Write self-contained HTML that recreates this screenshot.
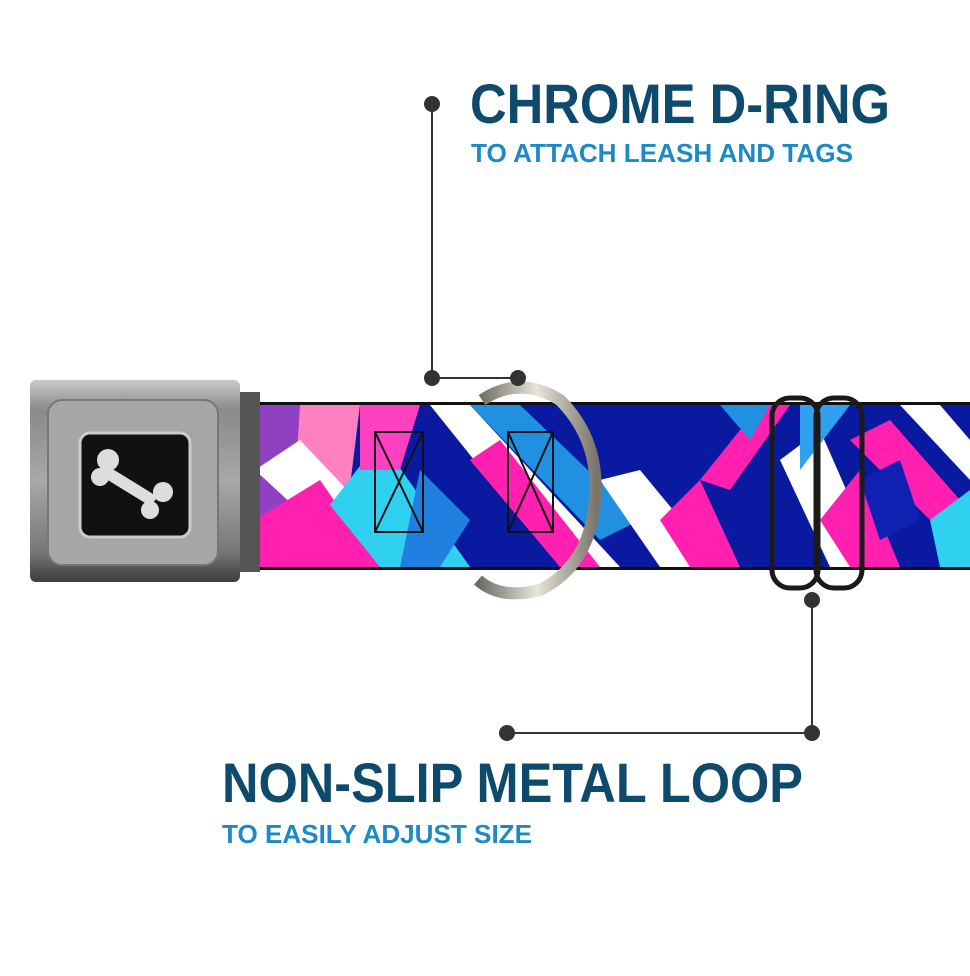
<!DOCTYPE html>
<html><head><meta charset="utf-8"><style>html,body{margin:0;padding:0;background:#fff}</style></head>
<body>
<svg width="970" height="971" viewBox="0 0 970 971" xmlns="http://www.w3.org/2000/svg" font-family="Liberation Sans, sans-serif" font-weight="bold">
<defs>
<clipPath id="strap"><rect x="255" y="405" width="715" height="162"/></clipPath>
<linearGradient id="buck" x1="0" y1="0" x2="0" y2="1">
<stop offset="0" stop-color="#c9c9c9"/><stop offset="0.15" stop-color="#8a8a8a"/><stop offset="0.5" stop-color="#a8a8a8"/><stop offset="0.85" stop-color="#777"/><stop offset="1" stop-color="#3c3c3c"/></linearGradient>
<linearGradient id="ring" x1="0" y1="0" x2="1" y2="0"><stop offset="0" stop-color="#6a6a60"/><stop offset="0.5" stop-color="#e8e4d8"/><stop offset="1" stop-color="#7a766c"/></linearGradient>
</defs>
<!-- strap -->
<rect x="250" y="402" width="720" height="168" fill="#111"/>
<g clip-path="url(#strap)">
<rect x="255" y="405" width="715" height="162" fill="#0a1aa0"/>
<polygon points="255,405 330,405 300,567 255,567" fill="#9040c0"/>
<polygon points="300,405 360,405 340,567 290,567" fill="#ff80c0"/>
<polygon points="255,470 300,440 420,567 360,567" fill="#ffffff"/>
<polygon points="255,520 320,480 380,567 255,567" fill="#ff20b0"/>
<polygon points="330,505 380,440 470,567 380,567" fill="#30d0f0"/>
<polygon points="360,405 420,405 400,470 360,470" fill="#ff40c0"/>
<polygon points="430,405 470,405 620,567 560,567" fill="#ffffff"/>
<polygon points="470,405 520,405 640,520 600,540" fill="#2090e0"/>
<polygon points="470,460 500,440 600,567 560,567" fill="#ff20b0"/>
<polygon points="420,470 470,520 440,567 400,567" fill="#2080e0"/>
<polygon points="600,480 640,470 720,567 660,567" fill="#ffffff"/>
<polygon points="700,480 760,405 790,405 730,490" fill="#ff20b0"/>
<polygon points="660,520 700,480 740,567 690,567" fill="#ff20b0"/>
<polygon points="720,405 770,405 750,440" fill="#2090e0"/>
<polygon points="780,460 820,430 880,567 830,567" fill="#ffffff"/>
<polygon points="800,405 850,405 800,470" fill="#30a0f0"/>
<polygon points="850,440 890,420 960,500 930,520" fill="#ff20b0"/>
<polygon points="820,520 860,470 900,567 850,567" fill="#ff20b0"/>
<polygon points="900,405 940,405 970,440 970,480" fill="#ffffff"/>
<polygon points="930,520 970,490 970,567 940,567" fill="#30d0f0"/>
<polygon points="860,480 900,460 920,520 880,540" fill="#1020b0"/>
</g>
<!-- stitch boxes -->
<g fill="none" stroke="#111" stroke-width="2">
<rect x="375" y="432" width="48" height="100"/><path d="M375,432 L423,532 M423,432 L375,532"/>
<rect x="508" y="432" width="45" height="100"/><path d="M508,432 L553,532 M553,432 L508,532"/>
</g>
<!-- d-ring -->
<path d="M482,400 Q520,375 560,400 Q600,440 595,500 Q590,565 540,590 Q500,600 478,580" fill="none" stroke="url(#ring)" stroke-width="12"/>
<!-- loop -->
<rect x="772" y="398" width="46" height="190" rx="18" fill="none" stroke="#1a1a1a" stroke-width="5"/>
<rect x="816" y="398" width="46" height="190" rx="18" fill="none" stroke="#1a1a1a" stroke-width="5"/>
<!-- buckle -->
<rect x="236" y="392" width="24" height="180" fill="#555"/>
<rect x="30" y="380" width="210" height="202" rx="6" fill="url(#buck)"/>
<rect x="48" y="400" width="170" height="165" rx="14" fill="#a6a6a6" stroke="#777" stroke-width="2"/>
<rect x="80" y="433" width="110" height="104" rx="10" fill="#111" stroke="#ccc" stroke-width="3"/>
<g fill="#ddd"><circle cx="108" cy="460" r="11"/><circle cx="100" cy="477" r="9"/><circle cx="163" cy="492" r="10"/><circle cx="150" cy="510" r="9"/><path d="M106,465 L158,497 L150,506 L98,474 Z"/></g>
<!-- callouts -->
<g stroke="#333" stroke-width="2" fill="none">
<path d="M432,104 V378 H518"/><path d="M812,600 V733 H507"/></g>
<g fill="#333"><circle cx="432" cy="104" r="8"/><circle cx="432" cy="378" r="8"/><circle cx="518" cy="378" r="8"/>
<circle cx="812" cy="600" r="8"/><circle cx="812" cy="733" r="8"/><circle cx="507" cy="733" r="8"/></g>
<text x="470" y="123" font-size="56" fill="#0d4a6b" textLength="420" lengthAdjust="spacingAndGlyphs">CHROME D-RING</text>
<text x="471" y="162" font-size="26" fill="#1b8ac6" textLength="382" lengthAdjust="spacingAndGlyphs">TO ATTACH LEASH AND TAGS</text>
<text x="222" y="802" font-size="56" fill="#0d4a6b" textLength="581" lengthAdjust="spacingAndGlyphs">NON-SLIP METAL LOOP</text>
<text x="222" y="843" font-size="26" fill="#1b8ac6" textLength="310" lengthAdjust="spacingAndGlyphs">TO EASILY ADJUST SIZE</text>
</svg>
</body></html>
